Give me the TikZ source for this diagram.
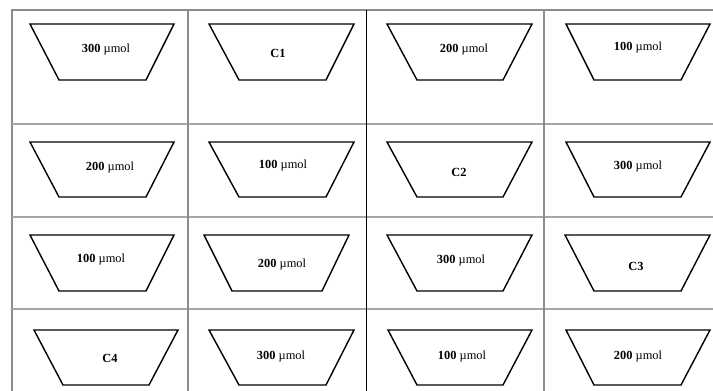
\documentclass[tikz,border=0pt]{standalone}
\usepackage{fontspec}
\setmainfont{Liberation Serif}
\begin{document}
\begin{tikzpicture}[x=1pt,y=-1pt,
  gridline/.style={draw=black!45,line width=1.5pt},
  gridlight/.style={draw=black!35,line width=1.5pt},
  gridblack/.style={draw=black,line width=1pt},
  trap/.style={draw=black,line width=1.4pt,line join=miter},
  lbl/.style={font=\fontsize{12.4}{14}\selectfont,inner sep=0pt}]
\useasboundingbox (0,0) rectangle (713,391);
% table
\draw[gridline] (12,391) -- (12,10) -- (713,10);
\draw[gridlight] (12,124) -- (713,124);
\draw[gridlight] (12,217) -- (713,217);
\draw[gridlight] (12,309) -- (713,309);
\draw[gridline] (188,10) -- (188,391);
\draw[gridblack] (366,10) -- (366,391);
\draw[gridline] (544,10) -- (544,391);
% trapezoids: row 1
\draw[trap] (30,24) -- (174,24) -- (146,80) -- (59,80) -- cycle;
\draw[trap] (209,24) -- (354,24) -- (326,80) -- (239,80) -- cycle;
\draw[trap] (387,24) -- (532,24) -- (503,80) -- (417,80) -- cycle;
\draw[trap] (566,24) -- (710,24) -- (681,80) -- (594,80) -- cycle;
% row 2
\draw[trap] (30,142) -- (174,142) -- (146,197) -- (59,197) -- cycle;
\draw[trap] (209,142) -- (354,142) -- (326,197) -- (239,197) -- cycle;
\draw[trap] (387,142) -- (532,142) -- (503,197) -- (417,197) -- cycle;
\draw[trap] (566,142) -- (710,142) -- (681,197) -- (594,197) -- cycle;
% row 3
\draw[trap] (30,235) -- (174,235) -- (146,291) -- (59,291) -- cycle;
\draw[trap] (204,235) -- (349,235) -- (322,291) -- (232,291) -- cycle;
\draw[trap] (387,235) -- (532,235) -- (503,291) -- (417,291) -- cycle;
\draw[trap] (565,235) -- (710,235) -- (681,291) -- (594,291) -- cycle;
% row 4
\draw[trap] (34,330) -- (178,330) -- (149,385) -- (63,385) -- cycle;
\draw[trap] (209,330) -- (354,330) -- (326,385) -- (239,385) -- cycle;
\draw[trap] (388,330) -- (532,330) -- (503,385) -- (417,385) -- cycle;
\draw[trap] (566,330) -- (710,330) -- (681,385) -- (594,385) -- cycle;
% labels
\node[lbl] (t11) at (106,50) {\textbf{300} µmol};
\node[lbl] (t12) at (278,53) {\textbf{C1}};
\node[lbl] (t13) at (464,50) {\textbf{200} µmol};
\node[lbl] (t14) at (638,48) {\textbf{100} µmol};
\node[lbl] (t21) at (110,168) {\textbf{200} µmol};
\node[lbl] (t22) at (283,166) {\textbf{100} µmol};
\node[lbl] (t23) at (459,172) {\textbf{C2}};
\node[lbl] (t24) at (638,167) {\textbf{300} µmol};
\node[lbl] (t31) at (101,260) {\textbf{100} µmol};
\node[lbl] (t32) at (282,265) {\textbf{200} µmol};
\node[lbl] (t33) at (461,261) {\textbf{300} µmol};
\node[lbl] (t34) at (636,266) {\textbf{C3}};
\node[lbl] (t41) at (110,358) {\textbf{C4}};
\node[lbl] (t42) at (281,357) {\textbf{300} µmol};
\node[lbl] (t43) at (462,357) {\textbf{100} µmol};
\node[lbl] (t44) at (638,357) {\textbf{200} µmol};
\end{tikzpicture}
\end{document}
